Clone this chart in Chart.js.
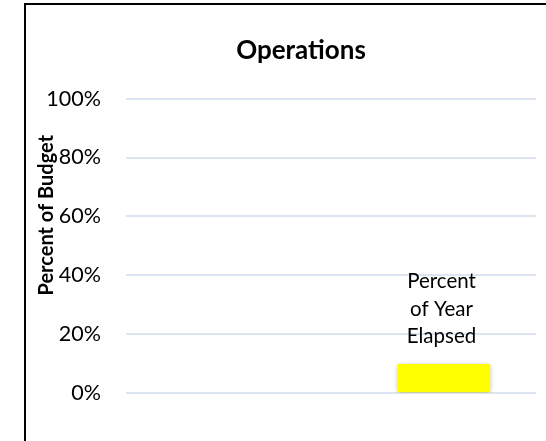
<!DOCTYPE html>
<html>
<head>
<meta charset="utf-8">
<script src="https://cdn.jsdelivr.net/npm/chart.js@4"></script>
<style>
  html, body { margin: 0; padding: 0; background: #fff; overflow: hidden; width: 546px; height: 441px; }
  #frame { position: absolute; left: 24px; top: 3px; width: 700px; height: 600px;
           border-left: 2px solid #000; border-top: 2px solid #000; }
  #wrap { position: absolute; left: 0; top: 0; width: 600px; height: 441px; }
</style>
</head>
<body>
<div id="frame"></div>
<div id="wrap"><canvas id="c" width="600" height="441"></canvas></div>
<script>
// ---- data ----
const categories = ['', ['Percent', 'of Year', 'Elapsed']];
const seriesName = 'Percent of Year Elapsed';
const values = [null, 9.7];
const tickValues = [0, 20, 40, 60, 80, 100];
const chartTitle = 'Operations';
const axisTitle = 'Percent of Budget';

const barLabelPlugin = {
  id: 'barLabel',
  beforeDatasetDraw(chart) {
    const ctx = chart.ctx;
    ctx.save();
    ctx.shadowColor = 'rgba(0,0,0,0.35)';
    ctx.shadowBlur = 5;
    ctx.shadowOffsetX = 0;
    ctx.shadowOffsetY = 1;
  },
  afterDatasetDraw(chart) {
    chart.ctx.restore();
  },
  afterDatasetsDraw(chart) {
    const meta = chart.getDatasetMeta(0);
    const ctx = chart.ctx;
    meta.data.forEach((bar, i) => {
      if (values[i] == null) return;
      const lines = Array.isArray(categories[i]) ? categories[i] : [categories[i]];
      ctx.save();
      ctx.font = '20.5px Lato';
      ctx.fillStyle = '#000';
      ctx.textAlign = 'center';
      ctx.textBaseline = 'alphabetic';
      const n = lines.length;
      lines.forEach((ln, j) => {
        ctx.fillText(ln, bar.x - 2.5, bar.y - 21 - (n - 1 - j) * 27.5);
      });
      ctx.restore();
    });
  }
};

new Chart(document.getElementById('c'), {
  type: 'bar',
  data: {
    labels: categories,
    datasets: [{
      label: seriesName,
      data: values,
      backgroundColor: '#FFFF00',
      borderWidth: 0,
      barThickness: 92
    }]
  },
  options: {
    responsive: false,
    animation: false,
    layout: { padding: { left: 40, right: 38, top: 0, bottom: 48 } },
    plugins: {
      legend: { display: false },
      tooltip: { enabled: false },
      title: {
        display: true,
        text: chartTitle,
        color: '#000',
        font: { family: 'Lato', weight: 'bold', size: 26, lineHeight: 1.2 },
        padding: { top: 30.5, bottom: -28.7 }
      }
    },
    scales: {
      x: {
        display: false,
        offset: true,
        afterBuildTicks: (s) => { s._startValue = -0.5; s._valueRange = 1.9333; }
      },
      y: {
        min: 0,
        max: 120.8,
        afterBuildTicks: (s) => { s.ticks = tickValues.map(v => ({ value: v })); },
        afterFit: (s) => { s.width = 85.5; },
        border: { display: false },
        grid: { color: '#dce5f1', lineWidth: 2, drawTicks: false },
        ticks: {
          padding: 24.5,
          color: '#000',
          font: { family: 'Lato', size: 21.5 },
          callback: (v) => v + '%'
        },
        title: {
          display: true,
          text: axisTitle,
          color: '#000',
          font: { family: 'Lato', weight: 'bold', size: 20, lineHeight: 1.2 },
          padding: { top: -5.5, bottom: 0 }
        }
      },
      yRight: {
        type: 'linear',
        position: 'right',
        display: true,
        afterFit: (s) => { s.width = 26; },
        border: { display: false },
        grid: { display: false, drawTicks: false },
        ticks: { display: false }
      }
    }
  },
  plugins: [barLabelPlugin]
});
</script>
</body>
</html>
